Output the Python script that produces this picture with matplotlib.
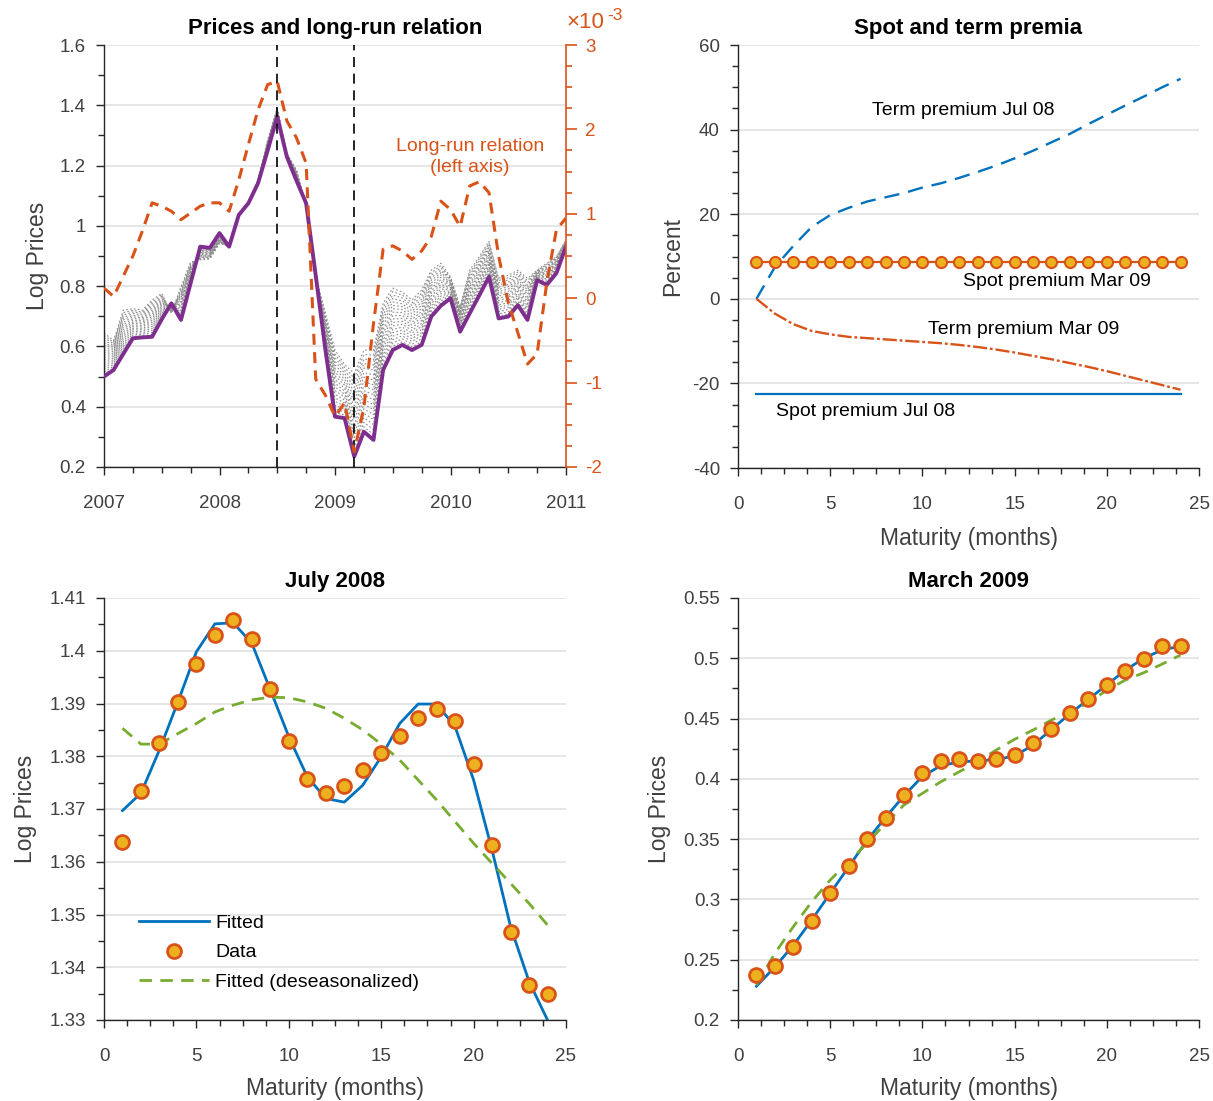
import numpy as np
import matplotlib
matplotlib.use("Agg")
import matplotlib.pyplot as plt
from matplotlib.ticker import MultipleLocator

plt.rcParams['font.family'] = ['Liberation Sans', 'DejaVu Sans']
plt.rcParams['axes.unicode_minus'] = False

BLUE = '#0072BD'
ORANGE = '#D95319'
YELLOW = '#EDB120'
PURPLE = '#7E2F8E'
GREEN = '#77AC30'
AX_COL = '#262626'
LBL_COL = '#404040'
GRID_COL = '#e2e2e2'

# ── data: prices (monthly, Jan 2007 .. Jan 2011) ─────────────────────────────
months = 2007 + np.arange(49) / 12.0
spot_price = [0.500, 0.522, 0.575, 0.627, 0.630, 0.632, 0.690, 0.743, 0.688, 0.810,
              0.931, 0.927, 0.976, 0.931, 1.036, 1.075, 1.141, 1.250, 1.362, 1.229,
              1.150, 1.075, 0.835, 0.590, 0.367, 0.362, 0.235, 0.317, 0.290, 0.522,
              0.588, 0.605, 0.588, 0.605, 0.699, 0.735, 0.760, 0.649, 0.710, 0.770,
              0.831, 0.693, 0.699, 0.737, 0.688, 0.820, 0.804, 0.843, 0.931]
futures_top = [0.644, 0.620, 0.720, 0.725, 0.720, 0.754, 0.776, 0.710, 0.798, 0.880,
               0.887, 0.890, 0.942, 0.930, 1.040, 1.080, 1.150, 1.285, 1.390, 1.240,
               1.185, 1.064, 0.831, 0.710, 0.588, 0.540, 0.510, 0.588, 0.588, 0.743,
               0.793, 0.780, 0.754, 0.787, 0.853, 0.876, 0.831, 0.732, 0.853, 0.898,
               0.948, 0.826, 0.836, 0.853, 0.826, 0.853, 0.876, 0.898, 0.953]
long_run_e3 = [0.12, 0.02, 0.26, 0.50, 0.80, 1.13, 1.09, 1.03, 0.93, 1.01,
               1.09, 1.13, 1.13, 1.03, 1.40, 1.82, 2.23, 2.53, 2.57, 2.10,
               1.90, 1.60, -0.96, -1.15, -1.40, -1.24, -1.82, -1.30, -0.30, 0.58,
               0.62, 0.56, 0.46, 0.56, 0.73, 1.15, 1.05, 0.85, 1.33, 1.38,
               1.25, 0.50, -0.05, -0.41, -0.78, -0.66, 0.18, 0.81, 0.95]
event_dates = [2008.5, 2009 + 2 / 12.0]

# ── data: premia ────────────────────────────────────────────────────────────
maturity = np.arange(1, 25)
term_prem_jul08 = [0.0, 7.5, 12.5, 17.0, 19.8, 21.5, 23.0, 24.0, 25.0, 26.3, 27.3, 28.6,
                   30.0, 31.5, 33.2, 35.0, 37.0, 39.0, 41.3, 43.5, 45.7, 47.8, 50.0, 52.0]
term_prem_mar09 = [0.0, -3.5, -6.0, -7.6, -8.4, -9.0, -9.3, -9.6, -9.9, -10.2, -10.5, -10.9,
                   -11.4, -12.0, -12.7, -13.5, -14.3, -15.2, -16.1, -17.1, -18.2, -19.3, -20.4, -21.5]
spot_prem_mar09 = 8.7
spot_prem_jul08 = -22.4

# ── data: term structures ───────────────────────────────────────────────────
jul08_data = [1.3637, 1.3734, 1.3826, 1.3902, 1.3975, 1.4030, 1.4058, 1.4023, 1.3927, 1.3829,
              1.3756, 1.3731, 1.3744, 1.3773, 1.3807, 1.3839, 1.3872, 1.3890, 1.3866, 1.3786,
              1.3631, 1.3467, 1.3367, 1.3350]
jul08_fit = [1.3697, 1.3730, 1.3812, 1.3903, 1.3998, 1.4051, 1.4053, 1.4014, 1.3926, 1.3837,
             1.3761, 1.3720, 1.3713, 1.3745, 1.3799, 1.3862, 1.3899, 1.3899, 1.3856, 1.3755,
             1.3622, 1.3477, 1.3373, 1.3300]
jul08_deseas = [1.3853, 1.3823, 1.3823, 1.3843, 1.3862, 1.3884, 1.3897, 1.3907, 1.3912, 1.3911,
                1.3903, 1.3891, 1.3872, 1.3850, 1.3823, 1.3793, 1.3755, 1.3717, 1.3676, 1.3635,
                1.3597, 1.3559, 1.3521, 1.3480]
mar09_data = [0.2373, 0.2450, 0.2608, 0.2824, 0.3051, 0.3277, 0.3499, 0.3678, 0.3869, 0.4046,
              0.4146, 0.4162, 0.4146, 0.4162, 0.4195, 0.4297, 0.4416, 0.4543, 0.4662, 0.4776,
              0.4892, 0.4994, 0.5104, 0.5104]
mar09_fit = [0.228, 0.244, 0.262, 0.283, 0.305, 0.327, 0.349, 0.368, 0.386, 0.402,
             0.411, 0.414, 0.415, 0.416, 0.419, 0.428, 0.441, 0.454, 0.466, 0.478,
             0.490, 0.500, 0.507, 0.510]
mar09_deseas = [0.2290, 0.2553, 0.2774, 0.2981, 0.3161, 0.3313, 0.3465, 0.3631, 0.3783, 0.3880,
                0.3976, 0.4059, 0.4142, 0.4239, 0.4328, 0.4405, 0.4488, 0.4557, 0.4631, 0.4736,
                0.4819, 0.4880, 0.4952, 0.5027]

W, H = 1213, 1101
fig = plt.figure(figsize=(W / 100, H / 100), dpi=100)


def add_axes(l, t, r, b):
    return fig.add_axes([l / W, 1 - b / H, (r - l) / W, (b - t) / H])


def style(ax, xmin, ymin):
    ax.spines['top'].set_visible(False)
    ax.spines['right'].set_visible(False)
    for s in ('left', 'bottom'):
        ax.spines[s].set_color(AX_COL)
        ax.spines[s].set_linewidth(1.0)
    ax.tick_params(which='major', direction='out', length=6, width=1, color=AX_COL,
                   labelcolor=LBL_COL, labelsize=13.5)
    ax.tick_params(which='minor', direction='out', length=4, width=1, color=AX_COL)
    ax.tick_params(axis='x', which='major', pad=14)
    ax.tick_params(axis='y', which='major', pad=7)
    ax.xaxis.set_minor_locator(MultipleLocator(xmin))
    ax.yaxis.set_minor_locator(MultipleLocator(ymin))
    ax.yaxis.grid(True, color=GRID_COL, lw=1.2)
    ax.set_axisbelow(True)


def title(ax, s):
    ax.set_title(s, fontsize=16, fontweight='bold', pad=8)


# ── top-left: prices and long-run relation ─────────────────────────────────
ax1 = add_axes(104, 45, 566, 467)
style(ax1, 0.25, 0.1)
spot = np.array(spot_price)
top = np.array(futures_top)
for w in np.linspace(0.06, 1.0, 18):
    ax1.plot(months, spot + w * (top - spot), color='#8c8c8c', lw=0.8,
             dashes=(1.5, 2.0), zorder=2)
ax1.plot(months, spot, color=PURPLE, lw=2.8, zorder=3)
for d in event_dates:
    ax1.axvline(d, color='black', lw=1.2, dashes=(6, 4), zorder=4)
ax1.set_xlim(2007, 2011)
ax1.set_ylim(0.2, 1.6)
ax1.set_xticks([2007, 2008, 2009, 2010, 2011])
ax1.set_xticklabels(['2007', '2008', '2009', '2010', '2011'])
ax1.set_yticks([0.2, 0.4, 0.6, 0.8, 1.0, 1.2, 1.4, 1.6])
ax1.set_yticklabels(['0.2', '0.4', '0.6', '0.8', '1', '1.2', '1.4', '1.6'])
ax1.set_ylabel('Log Prices', fontsize=16.5, color=LBL_COL, labelpad=8)
title(ax1, 'Prices and long-run relation')
ax1.text(2010.17, 1.228, 'Long-run relation\n(left axis)', color=ORANGE, fontsize=14,
         ha='center', va='center', linespacing=1.35)

ax2 = ax1.twinx()
for s in ('top', 'left', 'bottom'):
    ax2.spines[s].set_visible(False)
ax2.spines['right'].set_color(ORANGE)
ax2.spines['right'].set_linewidth(1.2)
ax2.plot(months, long_run_e3, color=ORANGE, lw=2.2, dashes=(3.6, 2.4), zorder=5)
ax2.set_ylim(-2, 3)
ax2.set_yticks([-2, -1, 0, 1, 2, 3])
ax2.yaxis.set_minor_locator(MultipleLocator(0.25))
ax2.tick_params(which='major', direction='out', length=8, width=1.2, color=ORANGE,
                labelcolor=ORANGE, labelsize=13.5, pad=6)
ax2.tick_params(which='minor', direction='out', length=4, width=1.2, color=ORANGE)
fig.text(566 / W, 1 - 23 / H, '\u00d710', color=ORANGE, fontsize=16, va='center', ha='left')
fig.text(607 / W, 1 - 15 / H, '-3', color=ORANGE, fontsize=12.5, va='center', ha='left')

# ── top-right: spot and term premia ───────────────────────────────────────
ax3 = add_axes(738, 45, 1199, 468)
style(ax3, 1.25, 5)
ax3.plot(maturity, term_prem_jul08, color=BLUE, lw=1.7, dashes=(6.5, 3.8))
ax3.plot(maturity, term_prem_mar09, color=ORANGE, lw=1.7, dashes=(6, 1.2, 1.2, 1.2))
ax3.plot(maturity, np.full(len(maturity), spot_prem_mar09), color=ORANGE, lw=1.6,
         marker='o', ms=8, mfc=YELLOW, mec=ORANGE, mew=1.5)
ax3.plot(maturity, np.full(len(maturity), spot_prem_jul08), color=BLUE, lw=1.6)
ax3.set_xlim(0, 25)
ax3.set_ylim(-40, 60)
ax3.set_xticks([0, 5, 10, 15, 20, 25])
ax3.set_yticks([-40, -20, 0, 20, 40, 60])
ax3.set_xlabel('Maturity (months)', fontsize=16.5, color=LBL_COL, labelpad=10)
ax3.set_ylabel('Percent', fontsize=16.5, color=LBL_COL, labelpad=6)
title(ax3, 'Spot and term premia')
txt = dict(fontsize=14, color='black', ha='center', va='center')
ax3.text(12.2, 44.6, 'Term premium Jul 08', **txt)
ax3.text(17.3, 4.0, 'Spot premium Mar 09', **txt)
ax3.text(15.5, -7.3, 'Term premium Mar 09', **txt)
ax3.text(6.9, -26.6, 'Spot premium Jul 08', **txt)

# ── bottom: term structures ───────────────────────────────────────────────
def term_panel(ax, data, fit, deseas):
    ax.plot(maturity, fit, color=BLUE, lw=2.0, label='Fitted', zorder=3)
    ax.plot(maturity, data, ls='none', marker='o', ms=10, mfc=YELLOW, mec=ORANGE,
            mew=2.0, label='Data', zorder=4)
    ax.plot(maturity, deseas, color=GREEN, lw=2.0, dashes=(4.5, 3), label='Fitted (deseasonalized)',
            zorder=3)
    ax.set_xlim(0, 25)
    ax.set_xticks([0, 5, 10, 15, 20, 25])
    ax.set_xlabel('Maturity (months)', fontsize=16.5, color=LBL_COL, labelpad=9)
    ax.set_ylabel('Log Prices', fontsize=16.5, color=LBL_COL, labelpad=9)


ax4 = add_axes(104, 598, 566, 1020)
style(ax4, 1.25, 0.005)
term_panel(ax4, jul08_data, jul08_fit, jul08_deseas)
ax4.set_ylim(1.33, 1.41)
ax4.set_yticks([1.33, 1.34, 1.35, 1.36, 1.37, 1.38, 1.39, 1.40, 1.41])
ax4.set_yticklabels(['1.33', '1.34', '1.35', '1.36', '1.37', '1.38', '1.39', '1.4', '1.41'])
title(ax4, 'July 2008')
ax4.legend(loc='lower left', bbox_to_anchor=(0.06, 0.05), frameon=False, fontsize=14,
           handlelength=3.6, handletextpad=0.3, labelspacing=0.62, borderaxespad=0)

ax5 = add_axes(738, 598, 1199, 1020)
style(ax5, 1.25, 0.025)
term_panel(ax5, mar09_data, mar09_fit, mar09_deseas)
ax5.set_ylim(0.2, 0.55)
ax5.set_yticks([0.2, 0.25, 0.3, 0.35, 0.4, 0.45, 0.5, 0.55])
ax5.set_yticklabels(['0.2', '0.25', '0.3', '0.35', '0.4', '0.45', '0.5', '0.55'])
title(ax5, 'March 2009')

fig.savefig('out.png', dpi=100)
